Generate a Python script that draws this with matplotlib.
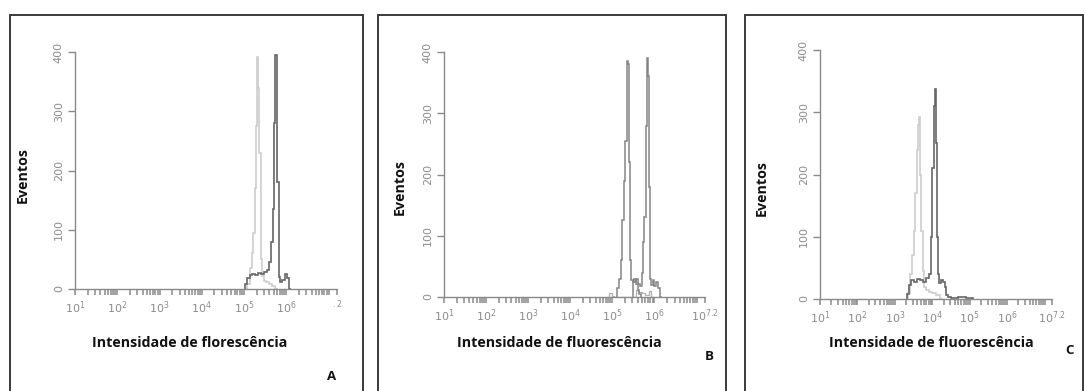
import numpy as np
import matplotlib
matplotlib.use("Agg")
import matplotlib.pyplot as plt
from matplotlib.patches import Rectangle

plt.rcParams['font.family'] = ['Open Sans', 'DejaVu Sans']

# histogram bins are in log10 units of fluorescence intensity
a_light_edges = [5.08, 5.13, 5.18, 5.22, 5.26, 5.29, 5.31, 5.34, 5.36, 5.39,
                 5.42, 5.47, 5.53, 5.60, 5.67, 5.74, 5.80]
a_light_counts = [8, 35, 60, 95, 170, 275, 392, 340, 230, 50, 22, 14, 12, 9, 5, 0]
a_dark_edges = [5.02, 5.08, 5.14, 5.20, 5.27, 5.34, 5.41, 5.48, 5.55, 5.60,
                5.64, 5.68, 5.71, 5.74, 5.77, 5.79, 5.82, 5.85, 5.90, 5.96,
                6.01, 6.06, 6.12]
a_dark_counts = [8, 18, 24, 26, 24, 27, 25, 28, 32, 45, 80, 135, 280, 395,
                 370, 180, 20, 12, 16, 26, 18, 0]

b_left_edges = [5.12, 5.16, 5.20, 5.24, 5.28, 5.31, 5.34, 5.37, 5.39, 5.42,
                5.45, 5.48, 5.52, 5.56, 5.60, 5.64, 5.68]
b_left_counts = [15, 30, 60, 125, 190, 255, 385, 380, 220, 60, 28, 25, 30, 22, 12, 5]
b_right_edges = [5.50, 5.55, 5.60, 5.65, 5.70, 5.73, 5.76, 5.79, 5.82, 5.84,
                 5.87, 5.89, 5.92, 5.96, 6.00, 6.04, 6.08, 6.13, 6.17]
b_right_counts = [25, 30, 22, 18, 40, 90, 130, 280, 390, 360, 180, 30, 20, 28, 18, 25, 14, 0]
b_low_edges = [4.92, 4.98, 5.05, 5.55, 5.62, 5.70, 5.78, 5.86, 5.92, 5.98]
b_low_counts = [6, 2, 0, 12, 8, 6, 4, 10, 0]

c_light_edges = [3.34, 3.40, 3.46, 3.51, 3.55, 3.59, 3.62, 3.65, 3.68, 3.71,
                 3.74, 3.78, 3.84, 3.92, 4.00, 4.10, 4.20, 4.30]
c_light_counts = [10, 40, 70, 110, 170, 240, 280, 292, 200, 110, 45, 20, 15, 12, 10, 6, 0]
c_dark_edges = [3.32, 3.38, 3.44, 3.50, 3.58, 3.66, 3.74, 3.82, 3.90, 3.96,
                4.00, 4.04, 4.07, 4.10, 4.13, 4.16, 4.19, 4.23, 4.28, 4.33,
                4.38, 4.42, 4.50, 4.70, 4.90, 5.10]
c_dark_counts = [8, 22, 30, 28, 32, 30, 28, 34, 40, 100, 210, 310, 338, 250,
                 100, 40, 25, 30, 28, 20, 6, 3, 2, 3, 1]

y_ticks = [0, 100, 200, 300, 400]
x_ticks = [1, 2, 3, 4, 5, 6, 7.2]
x_labels = [r'$10^{1}$', r'$10^{2}$', r'$10^{3}$', r'$10^{4}$', r'$10^{5}$',
            r'$10^{6}$', r'$10^{7.2}$']

W, H = 1085, 391
fig = plt.figure(figsize=(W / 100, H / 100), dpi=100)
fig.patch.set_facecolor('white')

AX_GRAY = '#8a8a8a'
LIGHT = '#cdcdcd'
DARK = '#666666'
MID = '#858585'


def px_axes(x0, x1, y0, y1):
    # x0..x1 left/right, y0 = bottom (y=0 line), y1 = top, in pixels from top-left
    return fig.add_axes([x0 / W, 1 - y0 / H, (x1 - x0) / W, (y0 - y1) / H])


def setup(ax, labels):
    ax.set_xlim(1, 7.2)
    ax.set_ylim(0, 400)
    for s in ['top', 'right']:
        ax.spines[s].set_visible(False)
    for s in ['left', 'bottom']:
        ax.spines[s].set_color(AX_GRAY)
        ax.spines[s].set_linewidth(1.0)
    ax.spines['left'].set_bounds(0, 400)
    ax.spines['bottom'].set_bounds(1, 7.2)
    ax.set_yticks(y_ticks)
    ax.set_yticklabels([str(v) for v in y_ticks], rotation=90, va='center',
                       fontsize=8, color='#8c8c8c', family='DejaVu Sans')
    ax.tick_params(axis='y', length=5, width=1.0, color=AX_GRAY, pad=3)
    ax.set_xticks(x_ticks)
    ax.set_xticklabels(labels, fontsize=8, color='#8c8c8c')
    minors = [d + np.log10(k) for d in range(1, 8) for k in range(2, 10)
              if d + np.log10(k) < 7.2] + [7]
    ax.set_xticks(minors, minor=True)
    ax.tick_params(axis='x', which='both', length=4.5, width=1.1, color=AX_GRAY,
                   pad=3)
    ax.patch.set_alpha(0)


def frame(x0, x1, y0):
    fig.add_artist(Rectangle((x0 / W, -0.05), (x1 - x0) / W, 1 - y0 / H + 0.05,
                             transform=fig.transFigure, fill=False,
                             edgecolor='#3a3a3a', linewidth=1.4))


frame(10, 363, 15)
frame(378, 726, 15)
frame(745, 1083, 15)

# panel A
axA = px_axes(75, 337, 289, 52)
axA.stairs(a_light_counts, a_light_edges, color=LIGHT, linewidth=1.2)
axA.stairs(a_dark_counts, a_dark_edges, color=DARK, linewidth=1.2)
setup(axA, x_labels[:-1] + [r'$^{.2}$'])

# panel B
axB = px_axes(444, 705, 297, 52)
axB.stairs(b_low_counts, b_low_edges, color='#b0b0b0', linewidth=0.9)
axB.stairs(b_left_counts, b_left_edges, color=MID, linewidth=1.1)
axB.stairs(b_right_counts, b_right_edges, color=MID, linewidth=1.1)
setup(axB, x_labels)

# panel C
axC = px_axes(820, 1052, 299, 50)
axC.stairs(c_light_counts, c_light_edges, color=LIGHT, linewidth=1.2)
axC.stairs(c_dark_counts, c_dark_edges, color=DARK, linewidth=1.2)
setup(axC, x_labels)


def ftext(x, y, s, size=10.3, **kw):
    fig.text(x / W, 1 - y / H, s, ha='center', va='center',
             fontweight='bold', fontsize=size, color='#111111', **kw)


ftext(23, 175, 'Eventos', rotation=90)
ftext(190, 343, 'Intensidade de florescência')
ftext(332, 376, 'A', size=9.5)

ftext(400, 187, 'Eventos', rotation=90)
ftext(559, 343, 'Intensidade de fluorescência')
ftext(709, 356, 'B', size=9.5)

ftext(762, 188, 'Eventos', rotation=90)
ftext(931, 343, 'Intensidade de fluorescência')
ftext(1069, 350, 'C', size=9.5)

fig.savefig('out.png', dpi=100)
